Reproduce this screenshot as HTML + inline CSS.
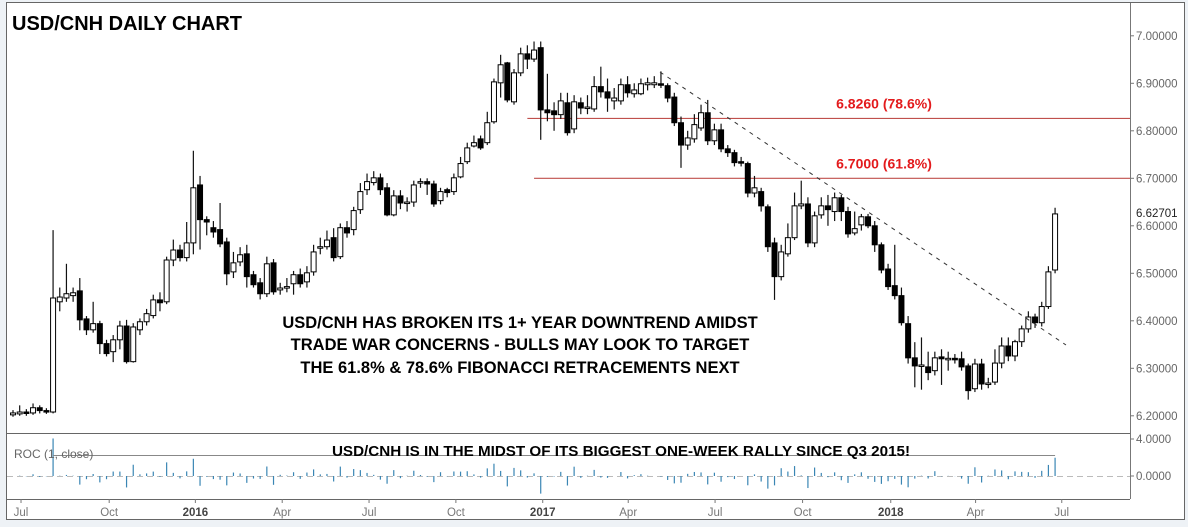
<!DOCTYPE html>
<html><head><meta charset="utf-8"><style>
html,body{margin:0;padding:0;background:#eef2f6;}
svg{display:block;font-family:"Liberation Sans",Arial,sans-serif;}
</style></head><body>
<svg id="chart" width="1188" height="527" viewBox="0 0 1188 527" xmlns="http://www.w3.org/2000/svg">
<rect x="0" y="0" width="1188" height="527" fill="#eef2f6"/>
<rect x="6.5" y="2.5" width="1178" height="517" fill="#fff" stroke="#666"/>
<line x1="1130.5" y1="3" x2="1130.5" y2="499" stroke="#777"/>
<line x1="7" y1="433.5" x2="1130" y2="433.5" stroke="#666"/>
<line x1="7" y1="499.5" x2="1130" y2="499.5" stroke="#666"/>
<line id="zeroLine" x1="7" y1="476.5" x2="1130" y2="476.5" stroke="#bbb" stroke-dasharray="6,4"/>
<g id="fibs"></g>
<g id="candles"></g>
<g id="roc"></g>
<g id="axes"></g>
<line x1="660" y1="72" x2="1066" y2="345" stroke="#333" stroke-dasharray="4,5"/>
<text x="12" y="30" font-size="20" font-weight="bold" fill="#000">USD/CNH DAILY CHART</text>
<g font-size="16.5" font-weight="bold" fill="#000" text-anchor="middle">
<text x="520" y="328">USD/CNH HAS BROKEN ITS 1+ YEAR DOWNTREND AMIDST</text>
<text x="520" y="350">TRADE WAR CONCERNS - BULLS MAY LOOK TO TARGET</text>
<text x="520" y="373">THE 61.8% &amp; 78.6% FIBONACCI RETRACEMENTS NEXT</text>
</g>
<text x="621" y="456" font-size="15.2" font-weight="bold" fill="#000" text-anchor="middle">USD/CNH IS IN THE MIDST OF ITS BIGGEST ONE-WEEK RALLY SINCE Q3 2015!</text>
<text x="14" y="458" font-size="12" fill="#666">ROC (1, close)</text>
</svg>
<script>
const opens=[6.202,6.204,6.208,6.206,6.217,6.211,6.208,6.440,6.448,6.453,6.463,6.404,6.381,6.394,6.352,6.335,6.360,6.389,6.314,6.381,6.398,6.411,6.444,6.440,6.528,6.549,6.533,6.564,6.686,6.613,6.596,6.592,6.566,6.503,6.524,6.541,6.497,6.480,6.457,6.522,6.465,6.469,6.478,6.497,6.482,6.503,6.553,6.556,6.575,6.535,6.596,6.592,6.634,6.676,6.691,6.701,6.680,6.623,6.663,6.648,6.650,6.691,6.693,6.688,6.653,6.676,6.672,6.703,6.735,6.768,6.783,6.775,6.819,6.901,6.943,6.861,6.922,6.962,6.951,6.975,6.844,6.842,6.834,6.859,6.804,6.859,6.848,6.846,6.893,6.882,6.863,6.863,6.897,6.878,6.878,6.897,6.897,6.899,6.895,6.871,6.817,6.770,6.783,6.806,6.838,6.779,6.802,6.762,6.754,6.735,6.731,6.669,6.672,6.640,6.564,6.493,6.541,6.575,6.642,6.646,6.564,6.623,6.642,6.630,6.659,6.630,6.585,6.602,6.619,6.600,6.560,6.509,6.474,6.453,6.394,6.322,6.305,6.303,6.295,6.324,6.320,6.321,6.320,6.305,6.257,6.309,6.267,6.271,6.311,6.347,6.326,6.356,6.383,6.408,6.396,6.430,6.507];
const closes=[6.206,6.208,6.206,6.217,6.211,6.209,6.448,6.450,6.457,6.459,6.402,6.381,6.394,6.352,6.331,6.360,6.389,6.314,6.387,6.398,6.415,6.444,6.438,6.528,6.549,6.533,6.564,6.680,6.613,6.608,6.587,6.562,6.499,6.522,6.539,6.493,6.476,6.457,6.520,6.461,6.469,6.472,6.497,6.478,6.501,6.545,6.556,6.570,6.533,6.596,6.585,6.632,6.672,6.693,6.701,6.676,6.623,6.663,6.648,6.650,6.686,6.693,6.688,6.646,6.672,6.670,6.701,6.731,6.764,6.775,6.764,6.817,6.903,6.939,6.865,6.922,6.962,6.951,6.970,6.844,6.838,6.834,6.863,6.796,6.861,6.848,6.850,6.893,6.882,6.869,6.869,6.897,6.880,6.886,6.899,6.901,6.901,6.897,6.869,6.817,6.770,6.785,6.813,6.838,6.779,6.802,6.762,6.754,6.733,6.733,6.669,6.680,6.642,6.556,6.493,6.545,6.575,6.642,6.646,6.564,6.621,6.642,6.634,6.659,6.630,6.583,6.594,6.619,6.600,6.560,6.507,6.472,6.453,6.396,6.322,6.305,6.307,6.291,6.322,6.320,6.321,6.320,6.303,6.253,6.309,6.267,6.269,6.311,6.347,6.326,6.356,6.383,6.408,6.396,6.430,6.503,6.625];
const highs=[6.212,6.222,6.214,6.226,6.222,6.216,6.591,6.470,6.520,6.470,6.490,6.410,6.440,6.400,6.360,6.370,6.400,6.402,6.395,6.405,6.425,6.455,6.460,6.535,6.571,6.560,6.608,6.758,6.705,6.620,6.610,6.648,6.575,6.545,6.555,6.560,6.505,6.490,6.535,6.530,6.480,6.490,6.505,6.510,6.515,6.560,6.575,6.590,6.595,6.605,6.610,6.640,6.690,6.710,6.715,6.710,6.690,6.675,6.675,6.660,6.695,6.700,6.700,6.695,6.680,6.680,6.710,6.745,6.775,6.790,6.790,6.840,6.910,6.960,6.945,6.930,6.975,6.980,6.988,6.988,6.920,6.860,6.880,6.880,6.875,6.870,6.875,6.915,6.935,6.910,6.890,6.910,6.915,6.900,6.910,6.912,6.915,6.925,6.900,6.880,6.830,6.800,6.835,6.855,6.865,6.815,6.815,6.770,6.760,6.745,6.735,6.705,6.680,6.645,6.575,6.560,6.605,6.670,6.695,6.660,6.630,6.660,6.665,6.670,6.665,6.640,6.630,6.625,6.625,6.610,6.565,6.520,6.560,6.470,6.410,6.355,6.365,6.335,6.335,6.340,6.335,6.330,6.335,6.310,6.320,6.320,6.280,6.340,6.365,6.365,6.360,6.390,6.420,6.415,6.440,6.515,6.638];
const lows=[6.198,6.200,6.200,6.202,6.205,6.204,6.205,6.420,6.440,6.440,6.380,6.370,6.375,6.330,6.325,6.313,6.340,6.310,6.312,6.370,6.390,6.405,6.420,6.435,6.515,6.525,6.525,6.540,6.550,6.580,6.575,6.555,6.475,6.490,6.515,6.470,6.470,6.445,6.450,6.455,6.455,6.460,6.455,6.470,6.470,6.495,6.540,6.550,6.525,6.530,6.575,6.580,6.625,6.665,6.685,6.665,6.620,6.620,6.635,6.630,6.640,6.680,6.665,6.640,6.645,6.660,6.665,6.700,6.730,6.765,6.760,6.770,6.815,6.870,6.860,6.855,6.915,6.930,6.945,6.781,6.820,6.800,6.825,6.790,6.795,6.835,6.835,6.840,6.870,6.840,6.845,6.855,6.870,6.870,6.875,6.885,6.890,6.890,6.860,6.810,6.722,6.760,6.775,6.800,6.770,6.770,6.755,6.745,6.725,6.725,6.660,6.660,6.630,6.545,6.444,6.485,6.535,6.570,6.635,6.555,6.555,6.615,6.600,6.610,6.610,6.575,6.580,6.590,6.595,6.545,6.500,6.465,6.445,6.390,6.310,6.260,6.255,6.275,6.285,6.265,6.295,6.310,6.295,6.234,6.250,6.255,6.258,6.265,6.300,6.315,6.315,6.345,6.375,6.385,6.388,6.425,6.500];
const priceTicks=[7.0,6.9,6.8,6.7,6.6,6.5,6.4,6.3,6.2];
const timeLabels=["Jul","Oct","2016","Apr","Jul","Oct","2017","Apr","Jul","Oct","2018","Apr","Jul"];
const timeLabelWeeks=[1.2,14.4,27.3,40.3,53.3,66.3,79.3,92.1,105.1,118.2,131.4,144.1,157.0];
const fibLevels=[6.826,6.700];
const fibLabels=["6.8260 (78.6%)","6.7000 (61.8%)"];
const fibStartWeeks=[77.0,78.0];
const lastPrice=6.62701;
const rocTicks=[4,0];

const NS="http://www.w3.org/2000/svg";
const yP=p=>35.8+(7-p)*475;
const xW=i=>13+i*6.68;
const yR=v=>476-v*9.75;
function mk(tag,attrs,parent){const e=document.createElementNS(NS,tag);for(const k in attrs)e.setAttribute(k,attrs[k]);parent.appendChild(e);return e;}

const cg=document.getElementById('candles');
for(let i=0;i<closes.length;i++){
  const x=xW(i),o=opens[i],c=closes[i];
  const g=mk('g',{},cg);
  
  
  mk('line',{x1:x,x2:x,y1:yP(highs[i]),y2:yP(lows[i]),stroke:'#111','stroke-width':1.2},g);
  const top=yP(Math.max(o,c)),bot=yP(Math.min(o,c));
  mk('rect',{x:x-2.5,y:top,width:5,height:Math.max(1.5,bot-top),fill:c>=o?'#fff':'#000',stroke:'#000','stroke-width':1},g);
}
const rg=document.getElementById('roc');
for(let i=1;i<closes.length;i++){
  const v=(closes[i]-closes[i-1])/closes[i-1]*100;
  const b=mk('line',{x1:xW(i),x2:xW(i),y1:yR(0),y2:yR(v),stroke:'#3a86b4','stroke-width':1.2},rg);
  
  
}
const hl=mk('line',{x1:xW(6),x2:xW(closes.length-1),y1:455.5,y2:455.5,stroke:'#888'},rg);



const fg=document.getElementById('fibs');
for(let k=0;k<fibLevels.length;k++){
  const l=mk('line',{x1:xW(fibStartWeeks[k]),x2:1130,y1:yP(fibLevels[k]),y2:yP(fibLevels[k]),stroke:'#c0504d','stroke-width':1.2},fg);
  
  
  const t=mk('text',{x:884,y:yP(fibLevels[k])-10,'font-size':14,'font-weight':'bold',fill:'#e31a1c','text-anchor':'middle'},fg);
  t.textContent=fibLabels[k];
  
  
}
const ag=document.getElementById('axes');
priceTicks.forEach(p=>{
  const y=yP(p);
  mk('line',{x1:1130,x2:1134,y1:y,y2:y,stroke:'#777'},ag);
  const t=mk('text',{x:1136,y:y+4,'font-size':11.5,fill:'#666'},ag);
  t.textContent=p.toFixed(5);
  
  
});
const lp=mk('rect',{x:1133,y:yP(lastPrice)-6,width:50,height:12,fill:'#fff'},ag);
const lpt=mk('text',{x:1136,y:yP(lastPrice)+4,'font-size':11.5,fill:'#222'},ag);
lpt.textContent=lastPrice.toFixed(5);


rocTicks.forEach(v=>{
  const y=v===4?439:yR(v);
  mk('line',{x1:1130,x2:1134,y1:y,y2:y,stroke:'#777'},ag);
  const t=mk('text',{x:1136,y:y+4,'font-size':11.5,fill:'#666'},ag);
  t.textContent=v.toFixed(4);
  
  
});
timeLabels.forEach((s,k)=>{
  const x=xW(timeLabelWeeks[k]);
  mk('line',{x1:x,x2:x,y1:499,y2:503,stroke:'#777'},ag);
  const bold=/^\d/.test(s);
  const t=mk('text',{x:x,y:516,'font-size':11.5,fill:bold?'#444':'#777','font-weight':bold?'bold':'normal','text-anchor':'middle'},ag);
  t.textContent=s;
  
  
});
</script>
</body></html>
